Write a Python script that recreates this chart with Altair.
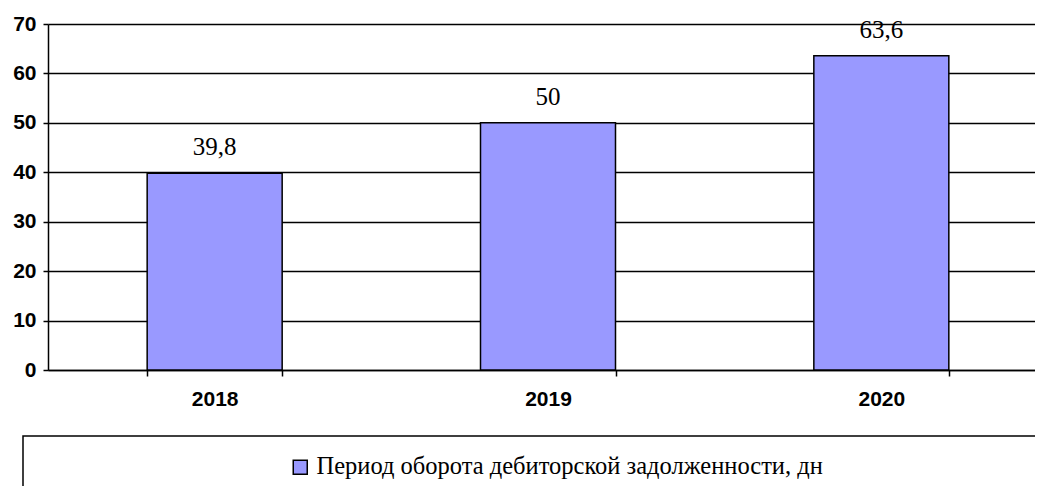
import altair as alt
import pandas as pd

years = ["2018", "2019", "2020"]
values = [39.8, 50.0, 63.6]
value_labels = ["39,8", "50", "63,6"]
series_name = "Период оборота дебиторской задолженности, дн"
y_ticks = [0, 10, 20, 30, 40, 50, 60, 70]

df = pd.DataFrame({
    "year": years,
    "value": values,
    "label": value_labels,
    "series": [series_name] * len(years),
})

SERIF = "'Liberation Serif', 'DejaVu Serif', serif"

x_enc = alt.X(
    "year:N",
    sort=years,
    scale=alt.Scale(range=[0, 1000], paddingInner=0.595, paddingOuter=0.2975),
    axis=alt.Axis(
        title=None, labelAngle=0, tickBand="extent", ticks=True, tickSize=6, tickColor="black",
        tickWidth=1.5, domainColor="black", domainWidth=1.5, labelFont="Liberation Sans",
        labelFontWeight="bold", labelFontSize=21, labelColor="black", labelPadding=12,
        grid=False,
    ),
)
y_enc = alt.Y(
    "value:Q",
    scale=alt.Scale(domain=[0, 70], nice=False),
    axis=alt.Axis(
        title=None, values=y_ticks, tickSize=5, tickColor="black", tickWidth=1.5,
        domainColor="black", domainWidth=1.5, grid=True, gridColor="black", gridWidth=1.6,
        gridOpacity=1, labelFont="Liberation Sans", labelFontWeight="bold",
        labelFontSize=21, labelColor="black", labelPadding=7,
    ),
)

bars = alt.Chart(df).mark_bar(stroke="black", strokeWidth=1.5).encode(
    x=x_enc,
    y=y_enc,
    color=alt.Color(
        "series:N",
        scale=alt.Scale(range=["#9999FF"]),
        legend=alt.Legend(
            title=None, orient="none", legendX=240, legendY=431, symbolType="square",
            symbolSize=196, symbolStrokeColor="black", symbolStrokeWidth=1.5,
            symbolFillColor="#9999FF", labelFont=SERIF, labelFontSize=24.5,
            labelColor="black", labelOffset=4, labelLimit=0, padding=0,
        ),
    ),
)

texts = alt.Chart(df).mark_text(
    font="Liberation Serif", fontSize=25, color="black", baseline="alphabetic", dy=-18
).encode(x=alt.X("year:N", sort=years), y="value:Q", text="label:N")

box = alt.Chart(pd.DataFrame({"a": [0]})).mark_rect(
    fill="white", fillOpacity=0, stroke="black", strokeWidth=1.5
).encode(x=alt.value(-25), x2=alt.value(1200), y=alt.value(412), y2=alt.value(800))

chart = alt.layer(box, bars, texts).properties(
    width=987, height=346, autosize="none",
    padding={"left": 40, "top": 16, "right": 0, "bottom": 116},
).configure_view(stroke=None).configure_legend(
    labelFont=SERIF, labelFontSize=24.5, labelColor="black"
).configure_axisX(tickBand="extent")

chart.save("out.html", embed_options={"renderer": "svg", "actions": False})
